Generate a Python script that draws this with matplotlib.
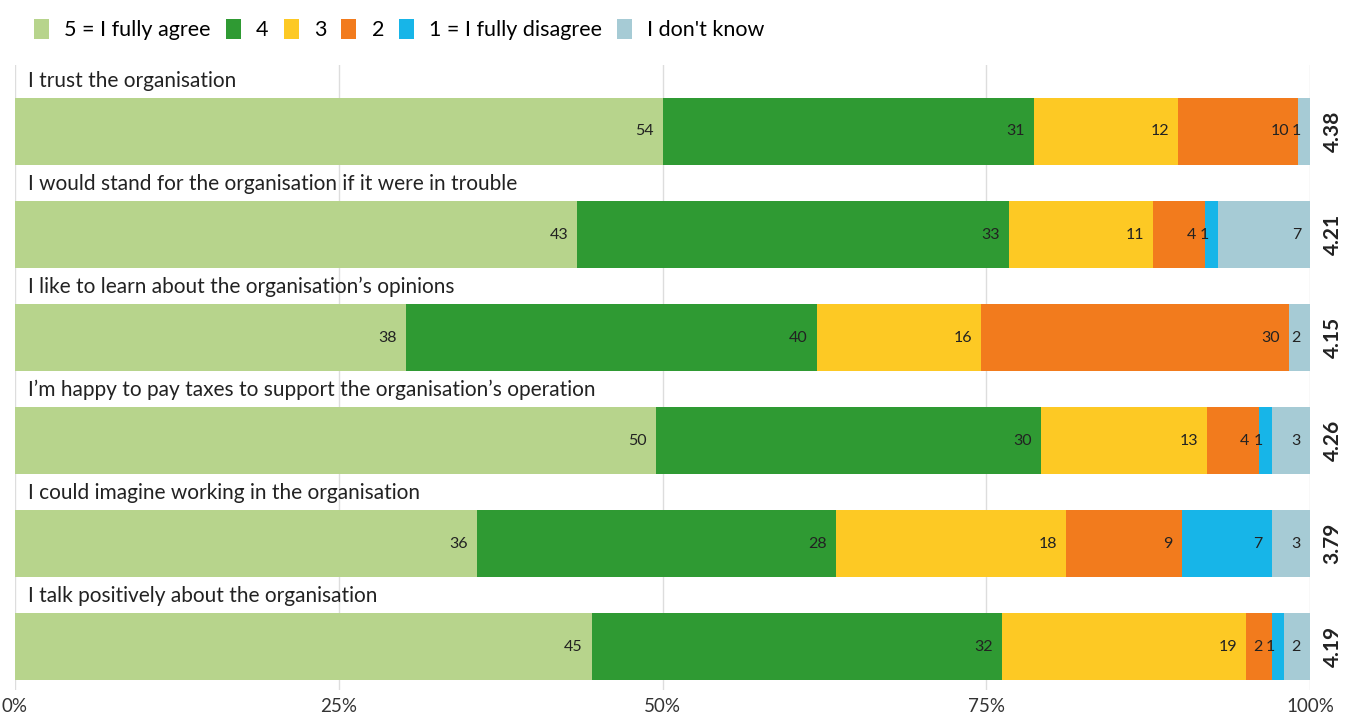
import numpy as np
import matplotlib.pyplot as plt
from matplotlib.patches import Patch

plt.rcParams['font.family'] = ['Lato', 'DejaVu Sans']

statements = [
    "I trust the organisation",
    "I would stand for the organisation if it were in trouble",
    "I like to learn about the organisation’s opinions",
    "I’m happy to pay taxes to support the organisation’s operation",
    "I could imagine working in the organisation",
    "I talk positively about the organisation",
]
answers = ["5 = I fully agree", "4", "3", "2", "1 = I fully disagree", "I don't know"]

agree5 = [54, 43, 38, 50, 36, 45]
agree4 = [31, 33, 40, 30, 28, 32]
agree3 = [12, 11, 16, 13, 18, 19]
agree2 = [10, 4, 30, 4, 9, 2]
agree1 = [0, 1, 0, 1, 7, 1]
dont_know = [1, 7, 2, 3, 3, 2]
means = ["4.38", "4.21", "4.15", "4.26", "3.79", "4.19"]

colors = ["#b7d48c", "#2f9a33", "#fdc924", "#f27b1d", "#17b5e8", "#a6cbd5"]

series = np.array([agree5, agree4, agree3, agree2, agree1, dont_know], dtype=float)
totals = series.sum(axis=0)
shares = series / totals * 100

fig = plt.figure(figsize=(13.54, 7.14), dpi=100)
ax = fig.add_axes([15 / 1354, 1 - 690 / 714, 1295 / 1354, 625 / 714])

y = np.arange(len(statements))
left = np.zeros(len(statements))
for k in range(len(answers)):
    ax.barh(y, shares[k], left=left, height=0.65, color=colors[k], zorder=2)
    for i in range(len(statements)):
        v = series[k, i]
        if v > 0:
            ax.text(left[i] + shares[k, i] - 0.7, y[i], f"{int(v)}",
                    ha='right', va='center', fontsize=11.5, color='#222222', zorder=3)
    left += shares[k]

for i, s in enumerate(statements):
    ax.text(1.0, y[i] - 0.49, s, ha='left', va='center', fontsize=15,
            color='#222222', zorder=3)
    ax.text(101.75, y[i], means[i], ha='center', va='center', rotation=90,
            fontsize=15, fontweight='bold', color='#222222', clip_on=False)

ax.set_xlim(0, 100)
ax.set_ylim(5.42, -0.645)
ax.set_xticks([0, 25, 50, 75, 100])
ax.set_xticklabels(["0%", "25%", "50%", "75%", "100%"], fontsize=13.5, color='#333333')
ax.tick_params(axis='x', length=0, pad=6)
ax.set_yticks([])
ax.grid(axis='x', color='#dddddd', linewidth=1, zorder=0)
for sp in ax.spines.values():
    sp.set_visible(False)

handles = [Patch(facecolor=c, edgecolor='none') for c in colors]
fig.legend(handles, answers, loc='upper left', bbox_to_anchor=(0.011, 1.0), ncol=6,
           frameon=False, fontsize=15.5, handlelength=0.7, handleheight=1.0,
           handletextpad=0.7, columnspacing=0.7)

fig.savefig("out.png", dpi=100)
